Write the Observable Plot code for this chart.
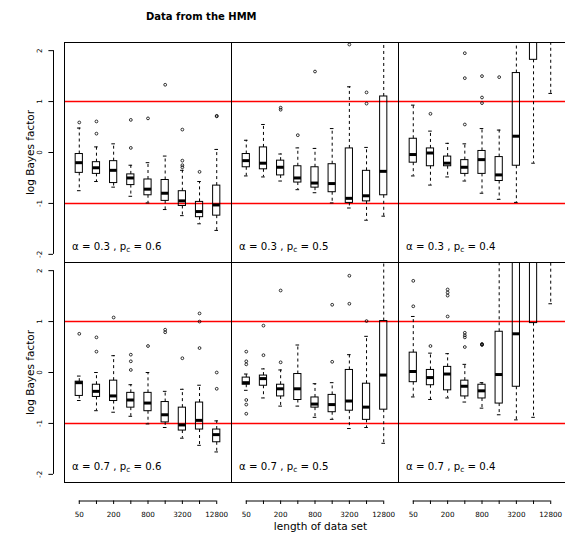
<!DOCTYPE html>
<html>
<head>
<meta charset="utf-8">
<script src="https://cdn.jsdelivr.net/npm/d3@7"></script>
<script src="https://cdn.jsdelivr.net/npm/@observablehq/plot@0.6"></script>
<style>
html, body { margin: 0; padding: 0; background: #fff; overflow: hidden; }
#wrap { position: relative; width: 565px; height: 533px; overflow: hidden; font-family: "DejaVu Sans", sans-serif; }
#chart { position: absolute; left: 0; top: 0; }
#title { position: absolute; left: 146px; top: 11.5px; font-weight: bold; font-size: 10px; line-height: 10px; white-space: nowrap; color: #000; }
#xlabel { position: absolute; left: 0; width: 641px; top: 520.5px; text-align: center; font-size: 10.5px; line-height: 10.5px; white-space: nowrap; color: #000; }
</style>
</head>
<body>
<div id="wrap">
  <div id="chart"></div>
  <div id="title">Data from the HMM</div>
  <div id="xlabel">length of data set</div>
</div>
<script>
// ---------- data ----------
const lengths = [50, 100, 200, 400, 800, 1600, 3200, 6400, 12800];
const xTickLabels = ["50", "200", "800", "3200", "12800"];
const yTicks = [-2, -1, 0, 1, 2];
const refLevels = [-1, 1];
const alphaValues = ["0.3", "0.7"];
const pcValues = ["0.6", "0.5", "0.4"];

// each box: [lower whisker, Q1, median, Q3, upper whisker]
const box_a03_p06 = [
  [-0.75, -0.40, -0.20, -0.03, 0.48],
  [-0.57, -0.42, -0.30, -0.19, 0.11],
  [-0.68, -0.60, -0.35, -0.17, 0.17],
  [-0.86, -0.64, -0.50, -0.43, -0.25],
  [-0.99, -0.84, -0.72, -0.53, -0.20],
  [-1.12, -0.95, -0.80, -0.54, -0.07],
  [-1.24, -1.05, -0.95, -0.76, -0.35],
  [-1.40, -1.27, -1.16, -0.97, -0.57],
  [-1.53, -1.24, -1.03, -0.65, 0.06]
];
const out_a03_p06 = [[0.59], [0.61, 0.37], [], [0.64, 0.09], [0.67], [1.33], [0.45, -0.16, -0.25, -0.29], [-0.38], [0.71, 0.72]];

const box_a03_p05 = [
  [-0.46, -0.29, -0.16, -0.03, 0.24],
  [-0.48, -0.33, -0.21, 0.10, 0.55],
  [-0.56, -0.45, -0.29, -0.16, -0.03],
  [-0.73, -0.59, -0.50, -0.27, 0.09],
  [-0.79, -0.69, -0.60, -0.29, 0.08],
  [-0.99, -0.78, -0.61, -0.23, 0.47],
  [-1.09, -0.99, -0.90, 0.08, 1.29],
  [-1.33, -0.96, -0.85, -0.36, 0.10],
  [-1.25, -0.84, -0.37, 1.10, 2.80]
];
const out_a03_p05 = [[], [], [0.88, 0.84], [0.34], [1.59], [], [2.12], [1.18, 0.96], []];

const box_a03_p04 = [
  [-0.46, -0.20, -0.04, 0.27, 0.93],
  [-0.64, -0.27, -0.01, 0.08, 0.42],
  [-0.48, -0.27, -0.21, -0.08, 0.18],
  [-0.56, -0.42, -0.29, -0.15, 0.17],
  [-0.80, -0.42, -0.14, 0.03, 0.47],
  [-0.92, -0.56, -0.44, -0.09, 0.44],
  [-0.98, -0.26, 0.32, 1.56, 2.60],
  [-0.21, 1.82, 2.50, 3.20, 4.50],
  [1.16, 2.40, 2.90, 3.50, 4.50]
];
const out_a03_p04 = [[], [0.76], [], [1.95, 1.46, 0.55], [1.50, 1.08, 0.97], [1.48], [], [], []];

const box_a07_p06 = [
  [-0.55, -0.46, -0.20, -0.18, -0.07],
  [-0.75, -0.48, -0.37, -0.24, 0.00],
  [-0.78, -0.56, -0.46, -0.16, 0.33],
  [-0.86, -0.69, -0.54, -0.40, -0.24],
  [-1.01, -0.76, -0.60, -0.40, 0.00],
  [-1.08, -0.98, -0.83, -0.58, -0.37],
  [-1.29, -1.14, -1.03, -0.69, -0.33],
  [-1.43, -1.12, -0.94, -0.59, -0.25],
  [-1.56, -1.37, -1.22, -1.12, -0.95]
];
const out_a07_p06 = [[0.76], [0.69, 0.41], [1.08], [0.35, 0.22, 0.05], [0.52], [0.84, 0.79], [0.28], [1.16, 1.00, 0.48], [0.00, -0.32]];

const box_a07_p05 = [
  [-0.35, -0.24, -0.20, -0.10, -0.03],
  [-0.50, -0.26, -0.12, -0.06, 0.07],
  [-0.66, -0.47, -0.32, -0.24, 0.05],
  [-0.66, -0.54, -0.32, -0.03, 0.54],
  [-0.88, -0.69, -0.62, -0.49, -0.22],
  [-0.92, -0.78, -0.63, -0.44, -0.20],
  [-1.10, -0.75, -0.56, 0.05, 0.35],
  [-1.08, -0.93, -0.68, -0.22, 0.71],
  [-1.39, -0.73, -0.05, 1.01, 2.60]
];
const out_a07_p05 = [[0.41, 0.22, 0.16, -0.54, -0.63, -0.81], [0.92, 0.34], [1.61, 0.20], [], [], [1.33, 0.21], [1.90, 1.35], [1.01], []];

const box_a07_p04 = [
  [-0.48, -0.19, 0.02, 0.39, 1.10],
  [-0.53, -0.25, -0.10, 0.05, 0.38],
  [-0.50, -0.35, -0.03, 0.11, 0.37],
  [-0.58, -0.47, -0.27, -0.16, 0.16],
  [-0.70, -0.51, -0.36, -0.24, -0.20],
  [-0.83, -0.61, -0.04, 0.80, 2.60],
  [-0.93, -0.28, 0.76, 2.40, 4.00],
  [-0.88, 0.97, 2.30, 3.30, 4.50],
  [1.35, 2.50, 3.00, 3.60, 5.00]
];
const out_a07_p04 = [[1.80, 1.30], [0.52], [1.63, 1.57, 1.51, 1.10], [0.78, 0.73, 0.69, 0.50], [0.55, 0.56, 0.54], [], [], [], []];

// ---------- tables built from the arrays ----------
const panels = [
  {alpha: "0.3", pc: "0.6", stats: box_a03_p06, out: out_a03_p06},
  {alpha: "0.3", pc: "0.5", stats: box_a03_p05, out: out_a03_p05},
  {alpha: "0.3", pc: "0.4", stats: box_a03_p04, out: out_a03_p04},
  {alpha: "0.7", pc: "0.6", stats: box_a07_p06, out: out_a07_p06},
  {alpha: "0.7", pc: "0.5", stats: box_a07_p05, out: out_a07_p05},
  {alpha: "0.7", pc: "0.4", stats: box_a07_p04, out: out_a07_p04}
];
const boxes = panels.flatMap(p => p.stats.map(([lo, q1, med, q3, hi], k) =>
  ({alpha: p.alpha, pc: p.pc, i: k + 1, lo, q1, med, q3, hi})));
const outliers = panels.flatMap(p => p.out.flatMap((vals, k) =>
  vals.map(v => ({alpha: p.alpha, pc: p.pc, i: k + 1, v}))));
const panelRows = panels.map(p => ({alpha: p.alpha, pc: p.pc, label: `α = ${p.alpha} , p_c = ${p.pc}`}));
const refRows = panels.flatMap(p => refLevels.map(y => ({alpha: p.alpha, pc: p.pc, y})));
const leftRows = alphaValues.map(a => ({alpha: a, pc: pcValues[0]}));
const bottomRows = pcValues.map(pc => ({alpha: alphaValues[alphaValues.length - 1], pc}));
const tickIdx = lengths.map((_, k) => k + 1);

// ---------- layout constants ----------
const xDomain = [0.14, lengths.length + 0.86];
const yDomain = [-2.16, 2.16];
const hw = 0.21;   // half box width
const cw = 0.105;  // half staple width
const fc = {fx: "pc", fy: "alpha"};

const chart = Plot.plot({
  width: 565,
  height: 533,
  marginTop: 42,
  marginBottom: 51,
  marginLeft: 63,
  marginRight: 0,
  style: {fontFamily: "DejaVu Sans", fontSize: "10px", background: "white", color: "black"},
  x: {domain: xDomain},
  y: {domain: yDomain},
  fx: {domain: pcValues, padding: 0, axis: null},
  fy: {domain: alphaValues, padding: 0, axis: null},
  marks: [
    // reference lines
    Plot.ruleY(refRows, {...fc, y: "y", stroke: "#ff0000", strokeWidth: 1.4}),
    // whiskers
    Plot.ruleX(boxes, {...fc, x: "i", y1: "q3", y2: "hi", stroke: "black", strokeWidth: 1, strokeDasharray: "3,3", clip: "frame"}),
    Plot.ruleX(boxes, {...fc, x: "i", y1: "q1", y2: "lo", stroke: "black", strokeWidth: 1, strokeDasharray: "3,3", clip: "frame"}),
    // staples
    Plot.ruleY(boxes, {...fc, y: "hi", x1: d => d.i - cw, x2: d => d.i + cw, stroke: "black", clip: "frame"}),
    Plot.ruleY(boxes, {...fc, y: "lo", x1: d => d.i - cw, x2: d => d.i + cw, stroke: "black", clip: "frame"}),
    // boxes
    Plot.rect(boxes, {...fc, x1: d => d.i - hw, x2: d => d.i + hw, y1: "q1", y2: "q3", fill: "none", stroke: "black", strokeWidth: 1, clip: "frame"}),
    // medians
    Plot.ruleY(boxes, {...fc, y: "med", x1: d => d.i - hw, x2: d => d.i + hw, stroke: "black", strokeWidth: 3, clip: "frame"}),
    // outliers
    Plot.dot(outliers, {...fc, x: "i", y: "v", r: 1.4, stroke: "black", strokeWidth: 0.8, fill: "none", clip: "frame"}),
    // panel labels
    Plot.text(panelRows, {...fc, text: "label", frameAnchor: "bottom-left", dx: 7.5, dy: -12.7, textAnchor: "start", lineAnchor: "bottom", fontSize: 10.2, fill: "black"}),
    // frames
    Plot.frame({stroke: "black", strokeWidth: 1}),
    // y axis (left column only)
    Plot.ruleX(leftRows, {...fc, x: () => xDomain[0], y1: () => yTicks[0], y2: () => yTicks[yTicks.length - 1], dx: -11, stroke: "black"}),
    Plot.axisY({ticks: yTicks, tickSize: 4.6, tickPadding: 6.5, dx: -11, tickRotate: -90, fontSize: 7.2, label: null, tickFormat: d => String(d)}),
    Plot.text(leftRows, {...fc, text: () => "log Bayes factor", frameAnchor: "left", dx: -34, rotate: -90, textAnchor: "middle", lineAnchor: "middle", fontSize: 10.5, fill: "black"}),
    // x axis (bottom row only)
    Plot.ruleY(bottomRows, {...fc, y: () => yDomain[0], x1: () => tickIdx[0], x2: () => tickIdx[tickIdx.length - 1], dy: 18.5, stroke: "black"}),
    Plot.axisX({ticks: tickIdx, tickSize: 3.5, tickPadding: 7.6, dy: 18.5, fontSize: 7.2, label: null,
      tickFormat: d => { const s = String(lengths[d - 1]); return xTickLabels.includes(s) ? s : ""; }})
  ]
});

// subscript "c" in the panel labels
chart.querySelectorAll("text").forEach(t => {
  const s = t.textContent;
  if (s.includes("p_c")) {
    const [a, b] = s.split("p_c");
    const ns = "http://www.w3.org/2000/svg";
    t.textContent = "";
    const t1 = document.createElementNS(ns, "tspan"); t1.textContent = a + "p";
    const t2 = document.createElementNS(ns, "tspan"); t2.textContent = "c"; t2.setAttribute("font-size", "7.5"); t2.setAttribute("dy", "2");
    const t3 = document.createElementNS(ns, "tspan"); t3.textContent = b.replace(/^ /, "\u00a0"); t3.setAttribute("dy", "-2");
    t.append(t1, t2, t3);
  }
});

document.getElementById("chart").append(chart);
</script>
</body>
</html>
